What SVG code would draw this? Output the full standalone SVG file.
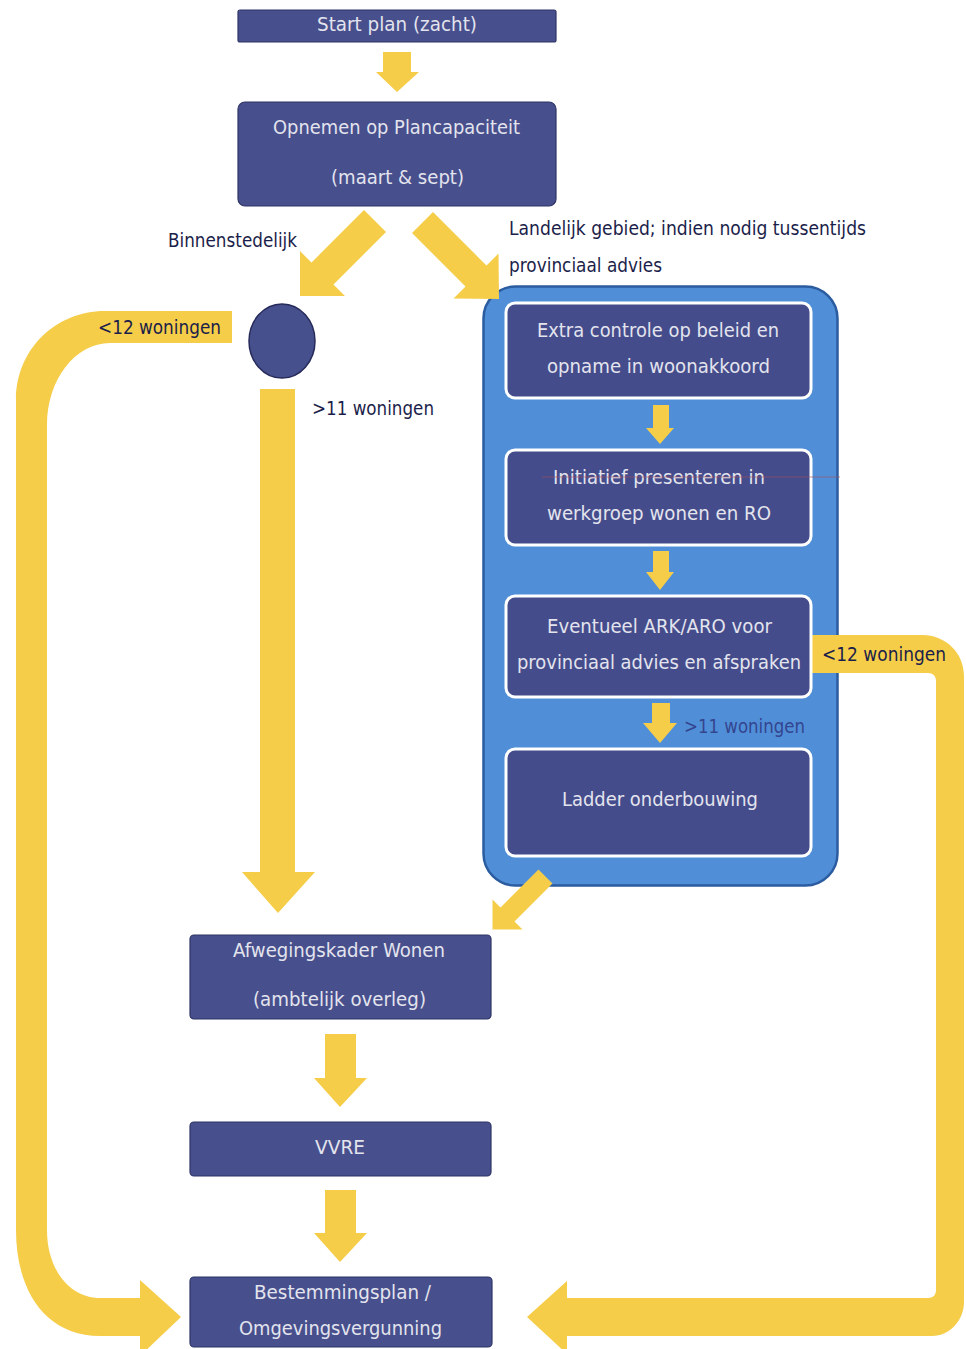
<svg xmlns="http://www.w3.org/2000/svg" width="966" height="1349" viewBox="0 0 966 1349">
<style>
.box{fill:#474f8c;stroke:#2f3566;stroke-width:1.2}
.ibox{fill:#454c8b;stroke:#ffffff;stroke-width:3}
.bt{font-family:"DejaVu Sans","Liberation Sans",sans-serif;font-size:19px;fill:#e3e4ee}
.lb{font-family:"DejaVu Sans","Liberation Sans",sans-serif;font-size:19px;fill:#1b1e4a}
.yl{fill:#f5cd48}
</style>
<rect width="966" height="1349" fill="#ffffff"/>

<g id="container">
<rect x="483.5" y="286.5" width="354" height="599" rx="32" fill="#508fd8" stroke="#2b5ca0" stroke-width="2.5"/>
</g>

<g id="connectors">
<polygon class="yl" points="383,52 411,52 411,72 419,72 397,92 376,72 383,72"/>
<polygon class="yl" points="364,210 386,232 333.5,284.5 345,296 300,296 300,251 311.5,262.5"/>
<polygon class="yl" points="412,233 433,212 486.5,265.5 498.5,253.5 499,299 453.5,298.5 465.5,286.5"/>
<path class="yl" d="M232,311 L105,311 C55,311 16,350 16,400 L16,1230 C16,1290 45,1336 100,1336 L140,1336 L140,1356 L181,1317 L140,1280 L140,1298 L100,1298 C70,1298 47,1270 47,1230 L47,425 C47,380 75,343 110,343 L232,343 Z"/>
<polygon class="yl" points="260,389 295,389 295,872 315,872 278,913 242,872 260,872"/>
<polygon class="yl" points="653,405 669,405 669,428 674,428 660,444 646,428 653,428"/>
<polygon class="yl" points="653,551 669,551 669,572 674,572 660,590 646,572 653,572"/>
<polygon class="yl" points="652,703 670,703 670,723 677,723 660,743 643,723 652,723"/>
<path class="yl" d="M812,635 L922,635 C946,635 964,653 964,676 L964,1302 C964,1320 950,1336 932,1336 L567,1336 L567,1354 L527,1317 L567,1281 L567,1298 L928,1298 C933,1298 936,1295 936,1290 L936,681 C936,676 933,673 928,673 L812,673 Z"/>
<polygon class="yl" points="538.5,869.5 552.5,883.5 514.5,921.5 522.5,929.5 492.5,929.5 492.5,899.5 500.5,907.5"/>
<polygon class="yl" points="325,1034 356,1034 356,1078 367,1078 340,1107 314,1078 325,1078"/>
<polygon class="yl" points="325,1190 356,1190 356,1233 367,1233 340,1262 314,1233 325,1233"/>
<text class="lb" x="168" y="247" textLength="129" lengthAdjust="spacingAndGlyphs">Binnenstedelijk</text>
<text class="lb" x="509" y="235" textLength="357" lengthAdjust="spacingAndGlyphs">Landelijk gebied; indien nodig tussentijds</text>
<text class="lb" x="509" y="272" textLength="153" lengthAdjust="spacingAndGlyphs">provinciaal advies</text>
<text class="lb" x="98" y="334" textLength="123" lengthAdjust="spacingAndGlyphs">&lt;12 woningen</text>
<text class="lb" x="312" y="415" textLength="122" lengthAdjust="spacingAndGlyphs">&gt;11 woningen</text>
<text class="lb" x="684" y="733" textLength="121" lengthAdjust="spacingAndGlyphs" style="fill:#34458f">&gt;11 woningen</text>
<text class="lb" x="822" y="661" textLength="124" lengthAdjust="spacingAndGlyphs">&lt;12 woningen</text>
</g>

<g id="start">
<rect class="box" x="238" y="10" width="318" height="32" rx="2"/>
<text class="bt" x="317" y="31" textLength="160" lengthAdjust="spacingAndGlyphs">Start plan (zacht)</text>
</g>

<g id="plancapaciteit">
<rect class="box" x="238" y="102" width="318" height="104" rx="7"/>
<text class="bt" x="273" y="134" textLength="247" lengthAdjust="spacingAndGlyphs">Opnemen op Plancapaciteit</text>
<text class="bt" x="331" y="184" textLength="133" lengthAdjust="spacingAndGlyphs">(maart &amp; sept)</text>
</g>

<g id="split">
<ellipse cx="282" cy="341" rx="33" ry="37" fill="#46508c" stroke="#262a5a" stroke-width="1.5"/>
</g>

<g id="extra-controle">
<rect class="ibox" x="506" y="303" width="305" height="95" rx="9"/>
<text class="bt" x="537" y="337" textLength="242" lengthAdjust="spacingAndGlyphs">Extra controle op beleid en</text>
<text class="bt" x="547" y="373" textLength="223" lengthAdjust="spacingAndGlyphs">opname in woonakkoord</text>
</g>

<g id="initiatief">
<rect class="ibox" x="506" y="450" width="305" height="95" rx="9"/>
<text class="bt" x="553" y="484" textLength="212" lengthAdjust="spacingAndGlyphs">Initiatief presenteren in</text>
<text class="bt" x="547" y="520" textLength="224" lengthAdjust="spacingAndGlyphs">werkgroep wonen en RO</text>
</g>

<g id="ark-aro">
<rect class="ibox" x="506" y="596" width="305" height="101" rx="9"/>
<text class="bt" x="547" y="633" textLength="225" lengthAdjust="spacingAndGlyphs">Eventueel ARK/ARO voor</text>
<text class="bt" x="517" y="669" textLength="284" lengthAdjust="spacingAndGlyphs">provinciaal advies en afspraken</text>
</g>

<g id="ladder">
<rect class="ibox" x="506" y="749" width="305" height="107" rx="9"/>
<text class="bt" x="562" y="806" textLength="196" lengthAdjust="spacingAndGlyphs">Ladder onderbouwing</text>
</g>

<line x1="542" y1="477" x2="840" y2="477" stroke="#a0505e" stroke-width="1" opacity="0.6"/>

<g id="afwegingskader">
<rect class="box" x="190" y="935" width="301" height="84" rx="4"/>
<text class="bt" x="233" y="957" textLength="212" lengthAdjust="spacingAndGlyphs">Afwegingskader Wonen</text>
<text class="bt" x="253" y="1006" textLength="173" lengthAdjust="spacingAndGlyphs">(ambtelijk overleg)</text>
</g>

<g id="vvre">
<rect class="box" x="190" y="1122" width="301" height="54" rx="4"/>
<text class="bt" x="315" y="1154" textLength="50" lengthAdjust="spacingAndGlyphs">VVRE</text>
</g>

<g id="bestemmingsplan">
<rect class="box" x="190" y="1277" width="302" height="70" rx="4"/>
<text class="bt" x="254" y="1299" textLength="177" lengthAdjust="spacingAndGlyphs">Bestemmingsplan /</text>
<text class="bt" x="239" y="1335" textLength="203" lengthAdjust="spacingAndGlyphs">Omgevingsvergunning</text>
</g>
</svg>
